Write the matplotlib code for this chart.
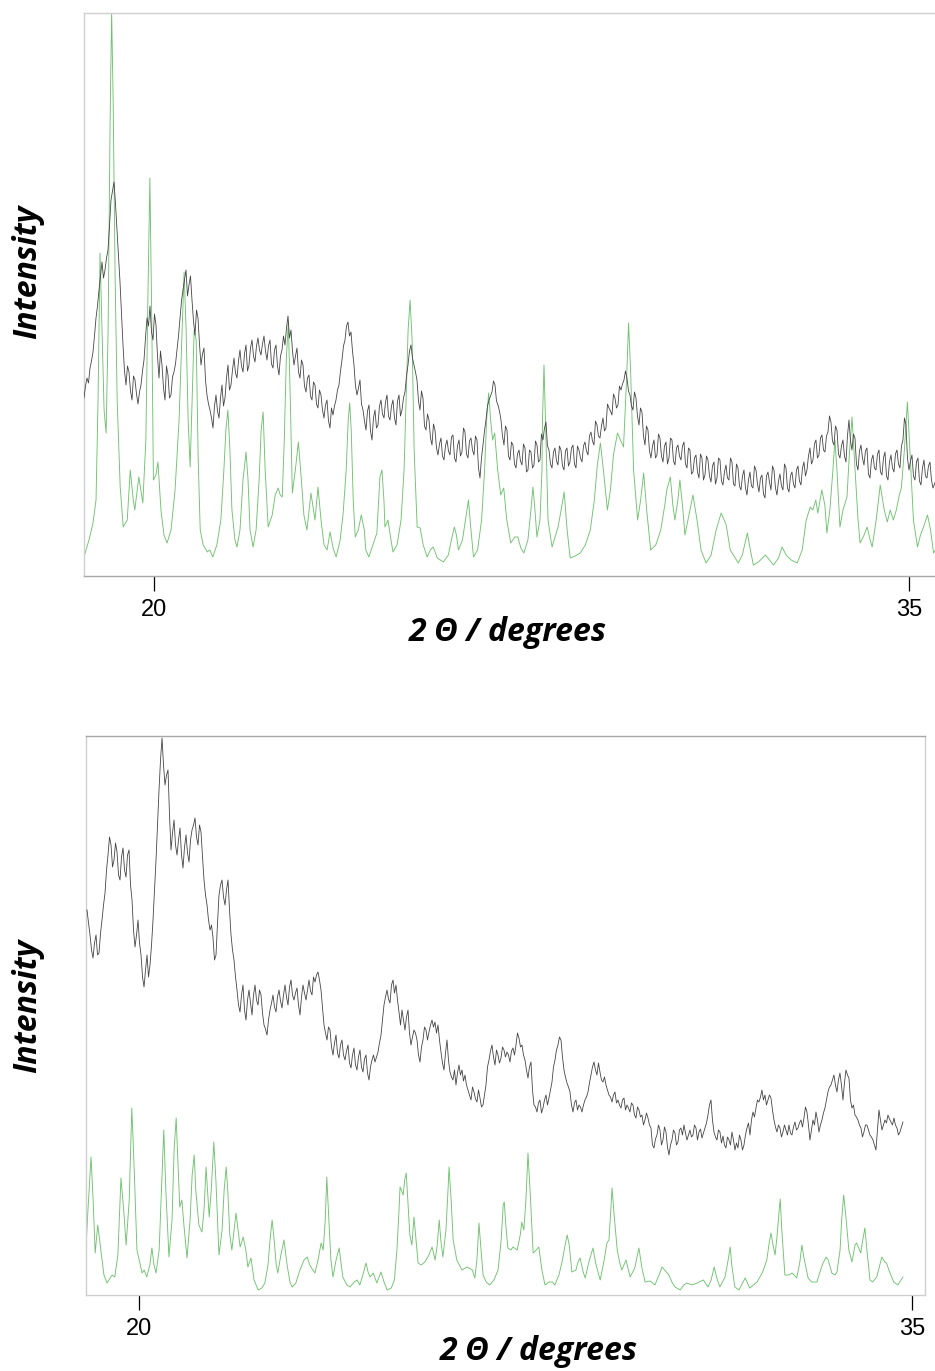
import numpy as np
import matplotlib
matplotlib.use("Agg")
import matplotlib.pyplot as plt

# ---------------- data (2theta in degrees, intensity in arbitrary units) ----------------
# top panel, experimental pattern on a uniform 2theta grid
TOP_EXP_START = 18.601
TOP_EXP_STEP = 0.0298
TOP_EXP_Y = [
    178,190,198,193,208,215,224,240,258,270,286,300,314,298,306,318,326,350,376,385,394,372,346,320,294,262,231,205,191,210,204,185,176,200,196,182,172,184,191,205,
    216,238,258,250,270,244,236,262,251,220,198,225,211,188,176,210,201,178,181,199,204,212,226,240,258,275,286,296,306,280,291,300,276,255,241,266,258,232,211,222,
    228,196,181,172,166,158,148,170,181,165,158,178,191,170,178,198,211,186,191,206,218,203,198,215,226,210,204,222,231,205,211,228,236,220,214,230,238,226,221,232,
    240,225,216,230,236,212,208,226,231,210,201,220,226,240,231,248,260,238,246,225,211,220,228,204,198,216,211,190,184,198,201,180,176,194,191,172,168,186,181,166,
    158,171,176,155,148,168,161,170,176,186,191,205,216,230,236,250,254,240,244,225,211,190,181,188,196,172,166,155,146,165,171,145,136,158,166,148,151,170,176,162,
    158,174,181,160,156,170,176,158,151,175,181,160,166,178,184,200,211,225,231,218,211,204,196,175,166,185,178,150,146,162,156,138,131,152,146,128,121,132,138,120,
    116,130,136,125,121,139,141,118,114,130,136,120,124,148,144,122,118,135,138,126,121,140,136,108,98,118,131,145,156,170,176,180,184,195,191,175,171,165,156,140,
    131,150,146,120,116,134,131,112,108,122,126,115,111,132,128,104,106,126,124,108,111,135,131,114,116,142,136,148,154,130,126,112,108,124,128,115,111,130,126,110,
    106,125,128,110,114,128,131,112,108,130,126,118,114,130,134,125,121,140,144,135,131,155,151,140,138,150,158,145,148,172,168,165,161,182,178,168,171,190,186,192,
    196,205,198,185,181,170,166,184,178,160,151,168,164,140,131,150,146,125,118,130,136,118,121,142,138,120,114,130,134,112,118,138,136,115,111,128,131,120,116,130,
    134,112,108,128,126,102,104,118,121,104,98,122,118,96,101,120,116,100,94,110,114,92,98,118,116,95,91,104,111,98,96,118,114,92,90,112,108,90,86,100,
    106,88,81,96,104,90,88,110,106,92,84,98,101,82,78,100,104,94,86,110,106,88,81,95,102,90,86,112,108,88,84,100,104,92,88,106,110,95,91,108,
    114,100,106,120,128,112,116,132,136,118,121,138,141,126,124,140,144,160,154,135,131,150,146,122,118,130,136,120,114,140,156,135,126,142,138,112,106,125,131,118,
    111,125,128,102,98,116,121,108,106,122,126,104,101,118,124,100,96,114,121,108,104,122,126,112,108,130,136,158,151,118,106,115,121,100,96,114,118,95,91,108,
    116,100,98,110,114,96,88,92,96]

# top panel, calculated pattern
TOP_CALC_X = [18.60,18.70,18.78,18.84,18.88,18.92,18.96,19.00,19.04,19.08,19.12,19.15,19.18,19.22,19.26,
              19.32,19.38,19.46,19.52,19.58,19.61,19.69,19.77,19.83,19.87,19.91,19.95,19.98,20.03,20.07,
              20.13,20.19,20.25,20.33,20.41,20.49,20.55,20.59,20.63,20.67,20.71,20.75,20.79,20.83,20.87,
              20.91,20.97,21.05,21.10,21.16,21.24,21.32,21.38,21.42,21.46,21.50,21.54,21.60,21.64,21.70,
              21.76,21.82,21.86,21.90,21.96,22.02,22.08,22.12,22.16,22.20,22.26,22.34,22.40,22.46,22.50,
              22.54,22.58,22.62,22.66,22.70,22.74,22.80,22.86,22.92,22.97,23.03,23.11,23.19,23.25,23.31,
              23.37,23.43,23.49,23.55,23.61,23.69,23.75,23.81,23.85,23.88,23.91,23.95,23.99,24.05,24.11,
              24.17,24.20,24.26,24.34,24.42,24.48,24.52,24.56,24.58,24.64,24.70,24.74,24.82,24.90,24.96,
              25.00,25.04,25.08,25.12,25.16,25.22,25.28,25.34,25.42,25.48,25.54,25.62,25.74,25.84,25.90,
              25.96,26.00,26.04,26.12,26.18,26.24,26.28,26.34,26.42,26.50,26.56,26.60,26.64,26.68,26.72,
              26.76,26.82,26.88,26.94,27.00,27.08,27.16,27.22,27.28,27.34,27.42,27.48,27.52,27.56,27.60,
              27.66,27.70,27.71,27.74,27.78,27.82,27.90,27.96,28.02,28.08,28.14,28.20,28.26,28.36,28.46,
              28.56,28.66,28.74,28.80,28.86,28.92,29.00,29.06,29.12,29.20,29.26,29.32,29.38,29.42,29.46,
              29.52,29.60,29.66,29.72,29.78,29.86,29.96,30.06,30.14,30.18,30.25,30.30,30.34,30.40,30.44,
              30.50,30.54,30.62,30.70,30.78,30.86,30.96,31.06,31.16,31.26,31.36,31.44,31.60,31.68,31.78,
              31.84,31.90,32.00,32.14,32.22,32.30,32.40,32.47,32.55,32.65,32.77,32.87,32.95,33.03,33.08,
              33.14,33.18,33.26,33.32,33.36,33.42,33.48,33.52,33.56,33.62,33.68,33.76,33.80,33.86,33.92,
              33.98,34.02,34.10,34.16,34.22,34.26,34.34,34.42,34.50,34.56,34.62,34.68,34.74,34.80,34.84,
              34.90,34.96,35.02,35.08,35.16,35.22,35.28,35.36,35.42,35.48,35.54]
TOP_CALC_Y = [19,36,53,76,176,323,246,166,143,246,456,564,476,296,176,
              89,49,56,106,76,66,99,73,136,276,398,246,96,101,114,
              66,41,33,46,86,156,246,304,246,156,109,176,246,236,116,
              46,31,24,26,19,31,56,106,146,166,126,66,36,29,46,
              96,124,96,46,29,46,96,146,164,106,49,61,81,88,81,
              79,136,216,254,176,83,106,134,96,61,46,83,56,89,56,
              31,26,44,28,19,36,63,106,156,173,146,76,39,46,61,
              46,26,19,31,43,99,106,76,49,56,36,24,31,56,106,
              176,246,276,236,126,49,48,31,19,26,29,18,14,21,36,
              49,41,26,36,56,76,51,19,26,56,106,156,183,156,136,
              143,106,81,88,56,33,39,39,28,23,36,66,89,66,39,
              56,106,156,211,136,56,29,39,49,66,84,46,18,20,23,
              31,46,76,111,133,106,66,86,121,143,136,129,196,253,206,
              106,56,76,103,66,26,31,46,71,86,99,71,56,76,96,
              66,41,61,81,56,26,13,21,46,63,51,26,13,21,43,
              26,11,14,21,16,11,18,29,21,16,13,26,56,69,66,
              76,63,86,71,43,66,106,136,106,49,66,79,116,159,106,
              56,33,41,49,36,29,56,91,66,54,66,56,66,81,88,
              126,174,116,56,29,41,49,61,46,23,28]

# bottom panel, experimental pattern on a uniform 2theta grid
BOT_EXP_START = 19.002
BOT_EXP_STEP = 0.029075
BOT_EXP_Y = [
    385,372,360,345,337,352,360,340,342,362,375,390,402,425,440,458,450,428,435,452,443,420,415,438,447,425,418,440,445,410,395,365,348,360,375,352,340,318,308,325,
    340,318,330,350,375,405,435,470,505,535,557,530,510,520,525,480,445,462,475,450,440,455,467,440,427,448,460,442,433,455,465,470,477,458,450,470,463,438,415,400,
    390,375,365,370,357,335,340,372,400,410,415,398,390,405,415,385,360,345,335,318,305,290,283,300,310,285,275,295,305,292,280,300,310,295,290,305,300,282,270,266,
    260,275,285,292,300,288,283,298,305,294,287,300,310,298,290,308,315,300,295,302,307,290,280,298,310,302,295,305,315,304,300,318,313,320,323,315,305,288,270,262,
    255,268,265,248,240,252,260,242,237,250,255,240,235,244,250,232,227,240,247,230,225,238,245,228,223,236,240,222,215,228,235,240,233,238,243,252,260,275,290,298,
    305,296,292,310,315,302,310,295,283,270,285,275,265,278,285,262,250,258,265,262,255,240,233,248,255,268,265,255,263,270,275,268,273,262,270,255,243,232,225,242,
    255,235,223,218,215,225,210,222,230,220,225,214,220,210,205,200,195,208,203,196,193,205,197,188,190,200,210,228,235,244,250,238,230,245,240,232,237,248,245,238,
    243,240,233,244,247,240,250,262,257,248,250,240,235,225,217,228,233,205,190,188,183,192,195,182,187,195,200,190,197,205,213,228,235,245,250,258,255,238,225,218,
    212,208,203,190,183,192,195,185,190,188,183,190,195,198,203,212,220,228,233,225,220,232,223,215,213,218,210,205,200,198,193,200,203,192,195,190,187,195,197,185,
    190,187,183,192,190,180,177,188,185,178,180,170,175,182,177,170,167,150,147,156,160,170,165,150,155,168,163,148,140,150,155,165,162,150,153,165,167,160,170,162,
    155,160,165,158,160,170,167,155,163,166,157,162,167,172,180,190,195,175,163,158,155,165,163,152,159,150,147,158,155,150,163,155,145,152,147,160,155,145,150,160,
    167,172,160,175,183,178,187,195,193,198,205,195,200,190,195,200,197,185,175,168,163,170,167,158,163,170,165,160,170,162,160,168,173,165,167,172,175,168,177,188,
    183,170,155,165,175,170,183,175,163,170,175,182,187,195,203,208,210,215,220,210,203,215,222,210,195,212,225,220,217,195,187,190,180,178,175,170,167,158,163,170,
    170,165,160,158,155,150,145,165,185,175,165,170,175,172,180,176,173,170,177,170,167,160,163,168,173]

# bottom panel, calculated pattern
BOT_CALC_X = [18.98,19.02,19.08,19.12,19.16,19.21,19.27,19.33,19.39,19.45,19.49,19.54,19.60,19.66,19.72,
              19.76,19.82,19.87,19.91,19.97,20.07,20.11,20.16,20.22,20.26,20.30,20.34,20.40,20.46,20.49,
              20.53,20.59,20.65,20.69,20.73,20.77,20.80,20.84,20.88,20.94,21.00,21.04,21.08,21.11,21.17,
              21.23,21.27,21.31,21.35,21.37,21.41,21.46,21.50,21.56,21.62,21.66,21.70,21.73,21.77,21.81,
              21.89,21.97,22.03,22.08,22.12,22.18,22.24,22.32,22.39,22.45,22.51,22.55,22.59,22.63,22.67,
              22.70,22.76,22.82,22.88,22.94,22.98,23.05,23.13,23.21,23.27,23.32,23.38,23.42,23.48,23.54,
              23.58,23.62,23.65,23.69,23.73,23.77,23.83,23.89,23.93,23.96,24.04,24.10,24.18,24.24,24.29,
              24.35,24.41,24.45,24.49,24.55,24.62,24.70,24.76,24.82,24.90,24.96,25.01,25.05,25.07,25.11,
              25.13,25.16,25.19,25.22,25.26,25.30,25.34,25.38,25.42,25.48,25.55,25.63,25.69,25.75,25.79,
              25.83,25.86,25.90,25.96,26.00,26.02,26.06,26.10,26.17,26.27,26.37,26.47,26.52,26.56,26.60,
              26.64,26.68,26.74,26.81,26.89,26.97,27.03,27.07,27.09,27.12,27.16,27.22,27.26,27.34,27.40,
              27.43,27.47,27.51,27.55,27.59,27.65,27.71,27.76,27.82,27.88,27.96,28.02,28.07,28.15,28.21,
              28.27,28.31,28.35,28.40,28.48,28.52,28.56,28.62,28.66,28.73,28.81,28.87,28.95,29.02,29.08,
              29.12,29.15,29.18,29.22,29.28,29.33,29.37,29.45,29.53,29.62,29.70,29.76,29.82,29.92,30.01,
              30.09,30.15,30.23,30.28,30.34,30.40,30.50,30.57,30.63,30.73,30.83,30.95,31.04,31.10,31.16,
              31.21,31.27,31.37,31.43,31.47,31.50,31.56,31.64,31.76,31.85,31.99,32.10,32.18,32.22,32.26,
              32.30,32.34,32.38,32.42,32.44,32.47,32.53,32.61,32.67,32.76,32.82,32.86,32.90,32.98,33.05,
              33.15,33.21,33.27,33.33,33.37,33.44,33.50,33.54,33.60,33.63,33.67,33.71,33.77,33.83,33.89,
              33.92,34.00,34.04,34.08,34.12,34.18,34.23,34.31,34.37,34.41,34.47,34.50,34.56,34.64,34.72,
              34.78,34.82]
BOT_CALC_Y = [45,85,138,95,42,70,45,20,12,17,20,18,40,117,80,
              50,95,187,135,45,22,25,18,30,47,30,22,45,125,165,
              105,38,75,145,177,125,88,95,70,37,75,120,140,105,70,
              63,85,128,95,78,105,153,115,40,65,105,128,105,60,45,
              82,48,58,45,28,37,15,5,7,12,30,55,75,55,30,
              22,40,55,30,12,8,12,25,35,38,30,25,22,35,52,
              45,75,118,75,35,18,35,47,30,18,10,8,13,15,10,
              20,32,23,18,22,12,23,13,5,7,15,45,85,108,103,
              100,115,122,95,60,50,78,55,32,30,33,40,48,35,50,
              75,55,38,65,105,128,95,55,35,25,28,25,17,35,72,
              45,20,13,10,15,25,55,90,93,70,47,45,48,45,60,
              73,65,95,142,105,42,45,48,25,10,13,13,10,20,33,
              50,60,50,23,25,33,37,23,17,33,47,30,15,33,52,
              55,80,107,80,45,32,25,35,18,27,47,27,13,14,10,
              20,28,23,20,13,8,5,10,12,10,12,15,8,15,28,
              17,8,18,35,48,30,8,5,17,7,13,23,35,50,62,
              50,40,60,85,96,65,20,20,22,17,33,50,37,17,13,
              13,23,32,38,35,22,20,23,45,75,100,80,45,33,50,
              52,42,55,67,45,15,13,18,30,38,33,32,23,13,10,
              15,18]

X_TICKS = [20, 35]
X_LABEL = "2 \u0398 / degrees"
Y_LABEL = "Intensity"

# ---------------- figure ----------------
W, H = 935, 1371
fig = plt.figure(figsize=(W / 100, H / 100), dpi=100)
plt.rcParams['font.family'] = ['Liberation Sans', 'DejaVu Sans']

EXP_COLOR = '#454545'
CALC_COLOR = '#70c270'
LABEL_FONT = dict(family=['Open Sans', 'DejaVu Sans'], weight='bold', style='italic', size=23)


def fig_axes(x0, y0, x1, y1):
    # pixel box (top-left origin) -> figure fraction
    return fig.add_axes([x0 / W, 1 - y1 / H, (x1 - x0) / W, (y1 - y0) / H])


def style_axes(ax, spine_colors):
    for side, col in spine_colors.items():
        if col is None:
            ax.spines[side].set_visible(False)
        else:
            ax.spines[side].set_color(col)
            ax.spines[side].set_linewidth(1.0)
    ax.set_xticks(X_TICKS)
    ax.set_xticklabels([str(t) for t in X_TICKS])
    ax.tick_params(axis='x', direction='out', length=10.5, width=0.9, color='black',
                   pad=6, labelsize=17)
    ax.set_yticks([])


# top panel
ax1 = fig_axes(84.3, 13.3, 937, 575.7)
x_top = TOP_EXP_START + TOP_EXP_STEP * np.arange(len(TOP_EXP_Y))
ax1.plot(TOP_CALC_X, TOP_CALC_Y, color=CALC_COLOR, lw=0.65, zorder=2)
ax1.plot(x_top, TOP_EXP_Y, color=EXP_COLOR, lw=0.6, zorder=3)
ax1.set_xlim(18.607, 35.548)
ax1.set_ylim(0.3, 562.7)
style_axes(ax1, {'left': '#cfcfcf', 'top': '#cfcfcf', 'bottom': '#a8a8a8', 'right': None})

# bottom panel
ax2 = fig_axes(86.3, 735.7, 925.3, 1294.7)
x_bot = BOT_EXP_START + BOT_EXP_STEP * np.arange(len(BOT_EXP_Y))
ax2.plot(BOT_CALC_X, BOT_CALC_Y, color=CALC_COLOR, lw=0.65, zorder=2)
ax2.plot(x_bot, BOT_EXP_Y, color=EXP_COLOR, lw=0.6, zorder=3)
ax2.set_xlim(18.988, 35.252)
ax2.set_ylim(0.3, 559.3)
style_axes(ax2, {'left': '#cfcfcf', 'top': '#a8a8a8', 'bottom': '#cfcfcf', 'right': '#cfcfcf'})

# axis titles
fig.text(508 / W, 1 - 632 / H, X_LABEL, ha='center', va='center', **LABEL_FONT)
fig.text(539 / W, 1 - 1352 / H, X_LABEL, ha='center', va='center', **LABEL_FONT)
fig.text(28 / W, 1 - 272 / H, Y_LABEL, ha='center', va='center', rotation=90, **LABEL_FONT)
fig.text(28 / W, 1 - 1006 / H, Y_LABEL, ha='center', va='center', rotation=90, **LABEL_FONT)

fig.savefig('out.png', dpi=100)
